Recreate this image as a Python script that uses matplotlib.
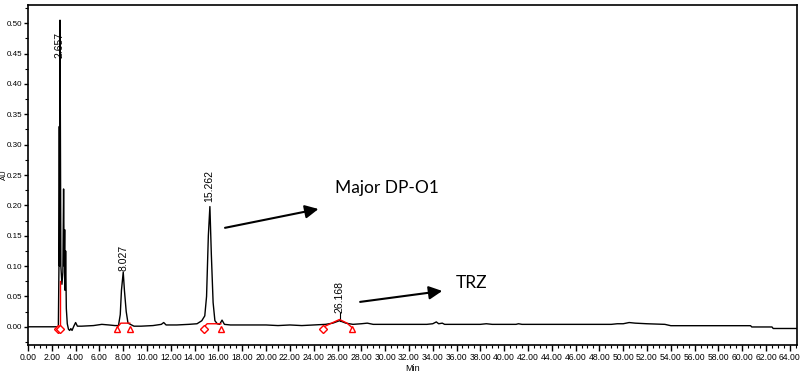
import numpy as np
import matplotlib.pyplot as plt
import matplotlib as mpl
from matplotlib.ticker import MultipleLocator, FormatStrFormatter

mpl.rcParams.update({
    'font.family': ['Liberation Sans', 'DejaVu Sans'],
    'font.size': 7,
    'axes.linewidth': 1.2,
    'xtick.labelsize': 6.2,
    'ytick.labelsize': 5.8,
})

# chromatogram trace (time in min, absorbance in AU)
trace_t = [0.0, 2.55, 2.6, 2.63, 2.65, 2.69, 2.76, 2.85, 2.93, 2.99, 3.04, 3.08,
           3.12, 3.16, 3.22, 3.3, 3.4, 3.5, 3.6, 3.7, 3.85, 4.0, 4.15, 4.5, 5.5,
           6.2, 6.8, 7.3, 7.6, 7.75, 7.85, 8.0, 8.1, 8.25, 8.4, 8.6, 8.9, 9.5,
           10.5, 11.2, 11.4, 11.6, 12.5, 13.5, 14.2, 14.6, 14.85, 15.0, 15.15,
           15.28, 15.4, 15.55, 15.7, 15.9, 16.1, 16.3, 16.5, 17.0, 18.0, 19.0,
           20.0, 21.0, 22.0, 23.0, 24.0, 25.0, 25.6, 26.17, 26.7, 27.3, 28.0,
           28.5, 29.0, 30.0, 31.0, 32.0, 33.5, 34.0, 34.3, 34.5, 34.8, 35.0,
           38.0, 38.5, 39.0, 41.0, 41.2, 41.5, 46.0, 48.0, 49.0, 49.5, 50.0,
           50.5, 51.0, 52.0, 53.5, 54.0, 58.0, 60.7, 60.8, 62.5, 62.6, 64.6]
trace_au = [0.0, 0.0, 0.10, 0.33, 0.10, 0.505, 0.10, 0.07, 0.09, 0.227, 0.10, 0.16,
            0.06, 0.125, 0.03, 0.005, -0.004, -0.006, -0.003, -0.006, 0.001, 0.007,
            0.001, 0.001, 0.002, 0.004, 0.003, 0.002, 0.002, 0.02, 0.06, 0.09, 0.06,
            0.025, 0.006, 0.004, 0.001, 0.001, 0.002, 0.004, 0.007, 0.003, 0.003,
            0.004, 0.005, 0.01, 0.018, 0.05, 0.15, 0.198, 0.12, 0.04, 0.01, 0.005,
            0.004, 0.011, 0.004, 0.003, 0.003, 0.003, 0.003, 0.002, 0.003, 0.002,
            0.003, 0.004, 0.006, 0.01, 0.006, 0.004, 0.005, 0.006, 0.004, 0.004,
            0.004, 0.004, 0.004, 0.005, 0.008, 0.005, 0.006, 0.004, 0.004, 0.005,
            0.004, 0.004, 0.005, 0.004, 0.004, 0.004, 0.004, 0.005, 0.005, 0.007,
            0.006, 0.005, 0.004, 0.0018, 0.0018, 0.0018, -0.0003, -0.0003, -0.0028, -0.0028]

# integrated peaks
peak_rt = [2.657, 8.027, 15.262, 26.168]
peak_top = [0.505, 0.09, 0.198, 0.01]
label_base = [0.442, 0.092, 0.206, 0.022]
peak_start = [2.50, 7.50, 14.75, 24.75]
peak_end = [2.72, 8.55, 16.20, 27.20]
start_marker = ['D', '^', 'D', 'D']
end_marker = ['D', '^', '^', '^']
base_au = [-0.004, 0.006, 0.005, 0.005]

annotations = ['Major DP-O1', 'TRZ']
arrow_from = [(16.55, 0.163), (27.9, 0.041)]
arrow_to = [(24.4, 0.194), (34.8, 0.059)]
text_at = [(25.8, 0.229), (35.9, 0.072)]

RED = '#ff0000'

fig = plt.figure(figsize=(8.07, 3.76), dpi=100)
ax = fig.add_axes([28 / 807, 31 / 376, 769 / 807, 340 / 376])

ax.plot(trace_t, trace_au, color='black', lw=1.0, zorder=3)

for i, rt in enumerate(peak_rt):
    s, e = peak_start[i], peak_end[i]
    if i == 0:
        ax.plot([e, e], [-0.004, 0.075], color=RED, lw=1.0, zorder=4)
    elif i == 3:
        ax.plot([s, 25.5, rt, 26.8, e], [-0.001, 0.006, 0.012, 0.006, -0.001],
                color=RED, lw=1.0, zorder=4)
        ax.plot([rt, rt], [peak_top[i], label_base[i]], color='black', lw=0.8)
    else:
        ax.plot([s, s + 0.3, e], [-0.001, base_au[i], base_au[i]], color=RED,
                lw=1.0, zorder=4)
    ax.plot([s], [-0.004], marker=start_marker[i], ms=4.5, mfc='white', mec=RED,
            mew=1.0, ls='none', zorder=5)
    ax.plot([e], [-0.004], marker=end_marker[i], ms=4.5, mfc='white', mec=RED,
            mew=1.0, ls='none', zorder=5)
    ax.text(rt, label_base[i], f'{rt:.3f}', rotation=90, ha='center',
            va='bottom', fontsize=7.5)

for lab, p0, p1, pt in zip(annotations, arrow_from, arrow_to, text_at):
    ax.annotate('', xy=p1, xytext=p0,
                arrowprops=dict(arrowstyle='-|>', color='black', lw=1.5,
                                mutation_scale=20, shrinkA=0, shrinkB=0))
    ax.text(pt[0], pt[1], lab, fontsize=12.5, family=['Lato', 'DejaVu Sans'],
            ha='left', va='center')

ax.set_xlim(0, 64.6)
ax.set_ylim(-0.03, 0.53)
ax.xaxis.set_major_locator(MultipleLocator(2))
ax.xaxis.set_minor_locator(MultipleLocator(0.5))
ax.yaxis.set_minor_locator(MultipleLocator(0.025))
ax.xaxis.set_major_formatter(FormatStrFormatter('%.2f'))
ax.set_yticks(np.arange(0, 0.51, 0.05))
ax.yaxis.set_major_formatter(FormatStrFormatter('%.2f'))
ax.tick_params(axis='x', which='major', length=4, width=1.0, direction='out', pad=2)
ax.tick_params(axis='y', which='major', length=3, width=1.0, direction='out', pad=1)
ax.tick_params(which='minor', length=2, width=0.8, direction='out')
ax.set_xlabel('Min', fontsize=6.5, labelpad=1)
fig.text(4.8 / 807, 1 - 175 / 376, 'AU', rotation=90, fontsize=5.5,
         ha='center', va='center')

fig.savefig('out.png', dpi=100)
